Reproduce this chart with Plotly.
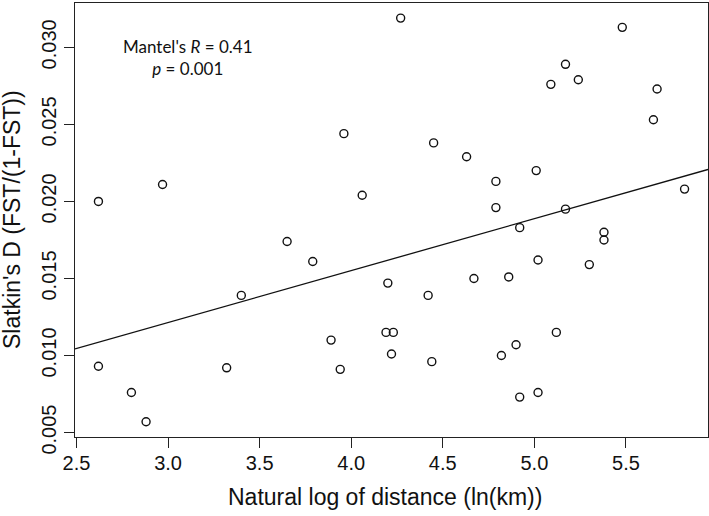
import plotly.graph_objects as go

# Data
log_distance = [2.62, 2.97, 2.62, 2.80, 2.88, 3.32, 3.40, 3.65, 3.79, 3.89,
                3.94, 3.96, 4.06, 4.20, 4.19, 4.23, 4.22, 4.27, 4.42, 4.44,
                4.45, 4.63, 4.67, 4.79, 4.79, 4.82, 4.86, 4.90, 4.92, 4.92,
                5.01, 5.02, 5.02, 5.09, 5.12, 5.17, 5.17, 5.24, 5.30, 5.38,
                5.38, 5.48, 5.65, 5.67, 5.82]
slatkin_d = [0.0200, 0.0211, 0.0093, 0.0076, 0.0057, 0.0092, 0.0139, 0.0174, 0.0161, 0.0110,
             0.0091, 0.0244, 0.0204, 0.0147, 0.0115, 0.0115, 0.0101, 0.0319, 0.0139, 0.0096,
             0.0238, 0.0229, 0.0150, 0.0213, 0.0196, 0.0100, 0.0151, 0.0107, 0.0183, 0.0073,
             0.0220, 0.0162, 0.0076, 0.0276, 0.0115, 0.0289, 0.0195, 0.0279, 0.0159, 0.0180,
             0.0175, 0.0313, 0.0253, 0.0273, 0.0208]

fit_intercept = 0.00203
fit_slope = 0.00337

x_ticks = [2.5, 3.0, 3.5, 4.0, 4.5, 5.0, 5.5]
x_tick_labels = ["2.5", "3.0", "3.5", "4.0", "4.5", "5.0", "5.5"]
y_ticks = [0.005, 0.010, 0.015, 0.020, 0.025, 0.030]
y_tick_labels = ["0.005", "0.010", "0.015", "0.020", "0.025", "0.030"]

x_range = [2.492, 5.948]
y_range = [0.00471, 0.03288]

fig = go.Figure()

fig.add_trace(go.Scatter(
    x=x_range,
    y=[fit_intercept + fit_slope * v for v in x_range],
    mode="lines",
    line=dict(color="#111111", width=1.3),
    showlegend=False,
    hoverinfo="skip",
))

fig.add_trace(go.Scatter(
    x=log_distance, y=slatkin_d,
    mode="markers",
    marker=dict(symbol="circle-open", size=8, color="#111111",
                line=dict(width=1.4, color="#111111")),
    showlegend=False,
))

axis_font = dict(family="Liberation Sans, Arial, sans-serif", size=20, color="#111111")

fig.update_layout(
    width=709, height=516,
    margin=dict(l=75, r=1, t=3, b=79),
    paper_bgcolor="white",
    plot_bgcolor="white",
    xaxis=dict(
        range=x_range, tickvals=x_ticks, ticktext=x_tick_labels,
        showgrid=False, zeroline=False, automargin=False,
        showline=True, mirror=True, linecolor="#222222", linewidth=1.2,
        ticks="outside", ticklen=10, tickwidth=1.2, tickcolor="#222222",
        tickfont=axis_font, ticklabelstandoff=-2,
    ),
    yaxis=dict(
        range=y_range, tickvals=y_ticks, ticktext=y_tick_labels,
        showgrid=False, zeroline=False, automargin=False,
        showline=True, mirror=True, linecolor="#222222", linewidth=1.2,
        ticks="outside", ticklen=10, tickwidth=1.2, tickcolor="#222222",
        tickfont=axis_font, tickangle=-90,
    ),
    annotations=[
        dict(text="Natural log of distance (ln(km))", xref="paper", yref="paper",
             x=0.49, y=0, xanchor="center", yanchor="middle", yshift=-60,
             showarrow=False,
             font=dict(family="Liberation Sans, Arial, sans-serif", size=23, color="#111111")),
        dict(text="Slatkin's D (FST/(1-FST))", xref="paper", yref="paper",
             x=0, y=0.5, xanchor="center", yanchor="middle", xshift=-63,
             textangle=-90, showarrow=False,
             font=dict(family="Liberation Sans, Arial, sans-serif", size=23, color="#111111")),
        dict(text="Mantel's <i>R</i> = 0.41<br><i>p</i> = 0.001", xref="paper", yref="paper",
             x=(188 - 75) / 633, y=1 - (57 - 3) / 434, xanchor="center", yanchor="middle",
             align="center", showarrow=False,
             font=dict(family="Lato, sans-serif", size=17, color="#111111")),
    ],
)

fig.write_html("out.html", config={"displayModeBar": False},
               post_script="document.body.style.margin='0';document.body.style.overflow='hidden';")
